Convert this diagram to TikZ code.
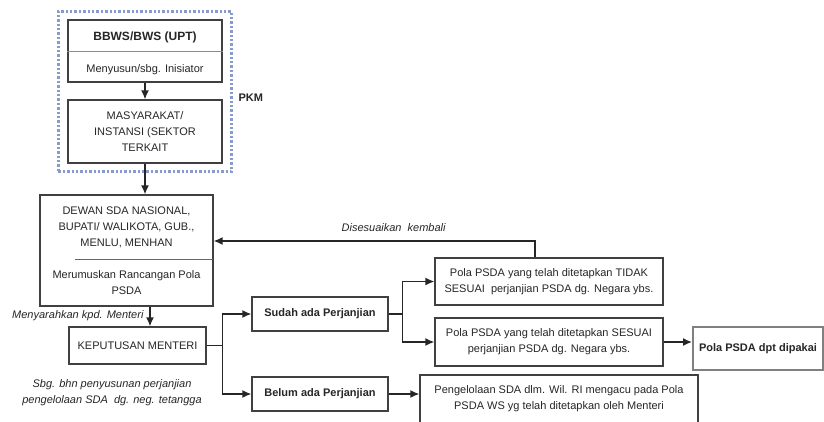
\documentclass[tikz,border=0pt]{standalone}
\usepackage{fontspec}
\setmainfont{Liberation Sans}
\usetikzlibrary{arrows.meta,positioning,fit}
\definecolor{pkmblue}{RGB}{135,155,205}

\begin{document}
\begin{tikzpicture}[x=1pt, y=-1pt, >={Latex[length=9pt,width=8pt]},
	every node/.style={font=\fontsize{11}{16}\selectfont, text=black!85, align=center},
	box/.style={draw=black!75, line width=1.3pt, inner sep=0pt},
	boldbox/.style={box, font=\fontsize{11}{16}\selectfont\bfseries},
	note/.style={font=\fontsize{11}{16}\selectfont\itshape},
	flow/.style={->, line width=1.4pt, draw=black!85},
	link/.style={line width=1.4pt, draw=black!85}]
	\useasboundingbox (0,0) rectangle (824,421);
	\fill[white] (0,0) rectangle (824,421);

	% PKM
	\node[box, minimum width=154pt, minimum height=62pt] (bbws) at (145,51) {};
	\draw[draw=black!45, line width=1pt] (bbws.west) -- (bbws.east);
	\node[font=\fontsize{12}{14}\selectfont\bfseries] (bbwsT) at (145,37) {BBWS/BWS (UPT)};
	\node (bbwsS) at (145,70) {Menyusun/sbg. Inisiator};
	\node[box, minimum width=154pt, minimum height=63pt] (masy) at (145,131.5) {MASYARAKAT/\\INSTANSI (SEKTOR\\TERKAIT};
	\node[fit=(bbws)(masy), draw=pkmblue, dotted, line width=2.4pt, inner xsep=9pt, inner ysep=8pt] (pkm) {};
	\node[anchor=west, font=\fontsize{11}{16}\selectfont\bfseries] (pkmL) at (235,98) {PKM};

	% dewan
	\node[box, minimum width=173pt, minimum height=111pt] (dewan) at (126.5,250.5) {};
	\node (dewanT) at (126.5,227) {DEWAN SDA NASIONAL,\\BUPATI/ WALIKOTA, GUB.,\\MENLU, MENHAN};
	\node (dewanS) at (126.5,282.5) {Merumuskan Rancangan Pola\\PSDA};
	\draw[draw=black!60, line width=1pt] (75,259) -- (213,259);

	\node[box, minimum width=137pt, minimum height=37pt] (kep) at (137.5,345.5) {KEPUTUSAN MENTERI};
	\node[note, anchor=east] (serah) at (147,316) {Menyarahkan kpd. Menteri};
	\node[note] (bahan) at (112,393) {Sbg. bhn penyusunan perjanjian\\pengelolaan SDA\ \ dg. neg. tetangga};

	% perjanjian
	\node[boldbox, minimum width=136pt, minimum height=34pt] (sudah) at (320,314) {Sudah ada Perjanjian};
	\node[boldbox, minimum width=136pt, minimum height=34pt] (belum) at (320,394) {Belum ada Perjanjian};
	\node[box, minimum width=228pt, minimum height=47pt] (tidak) at (549,281.5) {Pola PSDA yang telah ditetapkan TIDAK\\SESUAI\ \ perjanjian PSDA dg. Negara ybs.};
	\node[box, minimum width=228pt, minimum height=48pt] (sesuai) at (549,342) {Pola PSDA yang telah ditetapkan SESUAI\\perjanjian PSDA dg. Negara ybs.};
	\node[boldbox, draw=black!50, line width=1.8pt, minimum width=130pt, minimum height=43pt] (pakai) at (758,348.5) {Pola PSDA dpt dipakai};
	\node[box, minimum width=278pt, minimum height=48pt] (kelola) at (559,399) {Pengelolaan SDA dlm. Wil. RI mengacu pada Pola\\PSDA WS yg telah ditetapkan oleh Menteri};

	% connectors
	\draw[flow] (bbws) -- (masy);
	\draw[flow] (masy) -- (masy.south |- dewan.north);
	\draw[flow] ([xshift=23.5pt]dewan.south) -- ([xshift=12.5pt]kep.north);
	\coordinate (s1) at ([xshift=16pt]kep.east);
	\draw[link] (kep.east) -- (s1);
	\draw[flow] (s1) |- (sudah.west);
	\draw[flow] (s1) |- (belum.west);
	\coordinate (s2) at ([xshift=14pt]sudah.east);
	\draw[link] (sudah.east) -- (s2);
	\draw[flow] (s2) |- (tidak.west);
	\draw[flow] (s2) |- (sesuai.west);
	\draw[flow, line width=2.2pt] (sesuai.east) -- (sesuai.east -| pakai.west);
	\draw[flow] (belum.east) -- (belum.east -| kelola.west);
	\draw[flow] ([xshift=-14pt]tidak.north) |- node[note, pos=0.72, above=5pt] {Disesuaikan\ \ kembali} ([yshift=9.5pt]dewan.east);
\end{tikzpicture}
\end{document}
